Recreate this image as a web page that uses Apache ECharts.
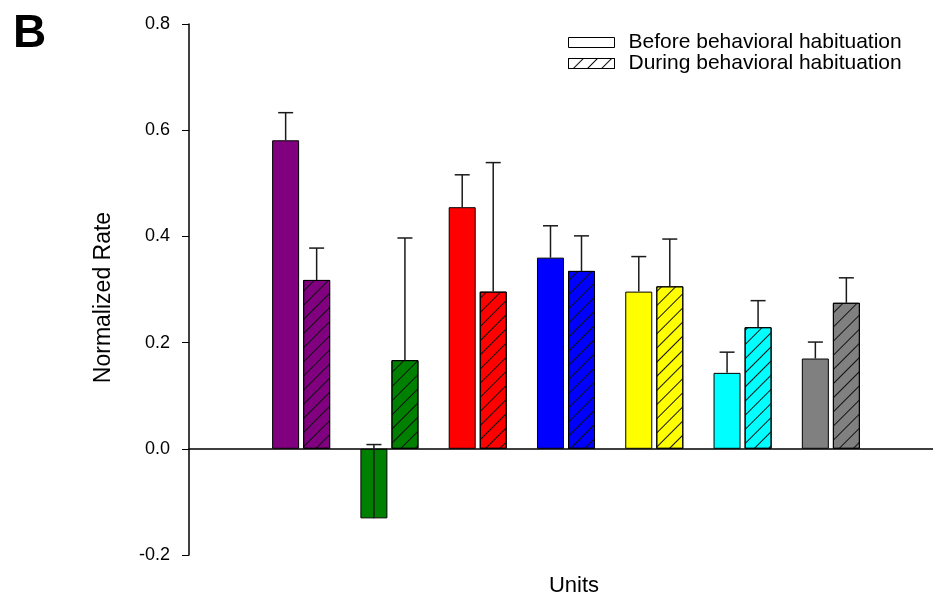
<!DOCTYPE html>
<html>
<head>
<meta charset="utf-8">
<script src="https://cdn.jsdelivr.net/npm/echarts@6/dist/echarts.min.js"></script>
<style>html,body{margin:0;padding:0;background:#fff;}#c{width:933px;height:604px;}</style>
</head>
<body>
<div id="c"></div>
<script>
// ---- data ----
const units = ['1', '2', '3', '4', '5', '6', '7'];
const unitColors = ['#800080', '#008000', '#ff0000', '#0000ff', '#ffff00', '#00ffff', '#808080'];
const beforeValues = [0.581, -0.131, 0.455, 0.360, 0.296, 0.143, 0.170];
const beforeErrors = [0.052, 0.139, 0.061, 0.060, 0.066, 0.039, 0.031];
const duringValues = [0.318, 0.167, 0.296, 0.335, 0.306, 0.229, 0.275];
const duringErrors = [0.060, 0.230, 0.243, 0.066, 0.089, 0.050, 0.047];
const yTicks = [-0.2, 0.0, 0.2, 0.4, 0.6, 0.8];
const seriesNames = ['Before behavioral habituation', 'During behavioral habituation'];

const FONT = '"Liberation Sans", Arial, sans-serif';

const hatchDecal = {
  symbol: 'rect', symbolSize: 1,
  dashArrayX: [1, 0], dashArrayY: [1, 9],
  rotation: -Math.PI / 4, color: '#111'
};

const BAR_W = 27;
const OFFSET = 15.5;

function errRender(offset) {
  return function (params, api) {
    const i = api.value(0), v = api.value(1), e = api.value(2);
    const base = api.coord([i, v]);
    const top = api.coord([i, v + e]);
    const x = base[0] + offset;
    const st = { stroke: '#1a1a1a', lineWidth: 1.5 };
    return {
      type: 'group',
      children: [
        { type: 'line', shape: { x1: x, y1: base[1], x2: x, y2: top[1] }, style: st },
        { type: 'line', shape: { x1: x - 7.5, y1: top[1], x2: x + 7.5, y2: top[1] }, style: st }
      ]
    };
  };
}

const chart = echarts.init(document.getElementById('c'), null, { renderer: 'canvas' });

const yBase = { type: 'value', min: yTicks[0], max: yTicks[yTicks.length - 1], interval: 0.2 };

chart.setOption({
  backgroundColor: '#fff',
  animation: false,
  textStyle: { fontFamily: FONT },
  graphic: [{
    type: 'text', left: 13, top: 11,
    style: { text: 'B', font: 'bold 46px ' + FONT, fill: '#000' }
  }],
  legend: {
    orient: 'vertical', left: 568, top: 32, padding: 0,
    itemWidth: 46, itemHeight: 10, itemGap: 0,
    icon: 'rect',
    textStyle: { fontSize: 21, color: '#000', fontFamily: FONT, padding: [0, 0, 0, 9] },
    data: [
      { name: seriesNames[0], itemStyle: { color: '#fff', borderColor: '#000', borderWidth: 1 } },
      { name: seriesNames[1], itemStyle: { color: '#fff', borderColor: '#000', borderWidth: 1, decal: hatchDecal } }
    ]
  },
  grid: [
    { left: 189, right: 0, top: 24, bottom: 49 },
    { left: 257, right: 58, top: 24, bottom: 49 }
  ],
  xAxis: [
    {
      gridIndex: 0, type: 'value', min: 0, max: 1,
      axisLine: { show: true, onZero: true, lineStyle: { color: '#000', width: 1.5 } },
      axisTick: { show: false }, axisLabel: { show: false }, splitLine: { show: false },
      name: 'Units', nameLocation: 'middle', nameGap: 20,
      nameTextStyle: { fontSize: 22, color: '#000', fontFamily: FONT, padding: [0, 0, 0, 26] }
    },
    {
      gridIndex: 1, type: 'category', data: units, show: false
    }
  ],
  yAxis: [
    Object.assign({}, yBase, {
      gridIndex: 0,
      axisLine: { show: true, lineStyle: { color: '#000', width: 1.5 } },
      axisTick: { show: true, inside: false, length: 7, lineStyle: { color: '#000', width: 1 } },
      axisLabel: { margin: 19, fontSize: 18, color: '#000', fontFamily: FONT,
        formatter: v => v.toFixed(1) },
      splitLine: { show: false },
      name: 'Normalized Rate', nameLocation: 'middle', nameGap: 74,
      nameTextStyle: { fontSize: 23, color: '#000', fontFamily: FONT, padding: [0, 16, 0, 0] }
    }),
    Object.assign({}, yBase, { gridIndex: 1, show: false, splitLine: { show: false } })
  ],
  series: [
    {
      name: seriesNames[0], type: 'bar', xAxisIndex: 1, yAxisIndex: 1,
      barWidth: BAR_W, barGap: '15%',
      data: beforeValues.map((v, i) => ({ value: v, itemStyle: { color: unitColors[i], borderColor: '#000', borderWidth: 1 } })),
      z: 2
    },
    {
      name: seriesNames[1], type: 'bar', xAxisIndex: 1, yAxisIndex: 1,
      barWidth: BAR_W,
      data: duringValues.map((v, i) => ({ value: v, itemStyle: { color: unitColors[i], borderColor: '#000', borderWidth: 1, decal: hatchDecal } })),
      z: 2
    },
    {
      type: 'custom', xAxisIndex: 1, yAxisIndex: 1, z: 5, silent: true,
      renderItem: errRender(-OFFSET),
      encode: { x: 0, y: 1 },
      data: beforeValues.map((v, i) => [i, v, beforeErrors[i]])
    },
    {
      type: 'custom', xAxisIndex: 1, yAxisIndex: 1, z: 5, silent: true,
      renderItem: errRender(OFFSET),
      encode: { x: 0, y: 1 },
      data: duringValues.map((v, i) => [i, v, duringErrors[i]])
    }
  ]
});
</script>
</body>
</html>
